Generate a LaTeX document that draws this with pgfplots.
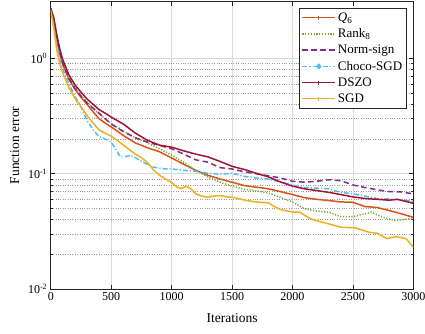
\documentclass[border=0pt]{standalone}
\usepackage{fontspec}
\setmainfont{Liberation Serif}
\usepackage{pgfplots}
\pgfplotsset{compat=1.18}
\definecolor{cQ}{rgb}{0.85,0.325,0.098}
\definecolor{cR}{rgb}{0.466,0.674,0.188}
\definecolor{cN}{rgb}{0.494,0.184,0.556}
\definecolor{cC}{rgb}{0.301,0.745,0.933}
\definecolor{cD}{rgb}{0.635,0.078,0.184}
\definecolor{cS}{rgb}{0.929,0.694,0.125}
\begin{document}
\begin{tikzpicture}
\begin{axis}[
  name=A,
  scale only axis, width=362pt, height=287pt,
  ymode=log, xmin=0, xmax=3000, ymin=0.01, ymax=3.1,
  xtick={0,500,1000,1500,2000,2500,3000},
  ytick={0.01,0.1,1},
  yticklabels={10\textsuperscript{-2},10\textsuperscript{-1},10\textsuperscript{0}},
  /pgf/number format/assume math mode=true,
  /pgf/number format/1000 sep={},
  tick label style={font=\fontsize{12}{14}\selectfont},
  label style={font=\fontsize{13.5}{15}\selectfont},
  xlabel={Iterations}, ylabel={Function error},
  xlabel style={at={(axis description cs:0.5,-0.1)}, anchor=center},
  ylabel style={at={(axis description cs:-0.0994,0.5)}, anchor=center},
  grid=both,
  major grid style={black!15, line width=0.6pt},
  minor grid style={black!40, dotted, line width=0.6pt},
  minor x tick num=0,
  tick align=inside,
  axis line style={black!85, line width=0.7pt},
  every tick/.style={black!85, line width=0.6pt},
  major tick length=4pt, minor tick length=2.5pt,
  legend cell align=left,
  legend style={at={(0.983,0.979)}, anchor=north east, draw=black!85, line width=0.7pt,
    font=\fontsize{13}{15}\selectfont, row sep=1.9pt, inner sep=2.5pt},
  legend image code/.code={\draw[#1] plot coordinates {(0cm,0cm) (0.575cm,0cm) (1.15cm,0cm)};},
]
\addlegendimage{color=cQ, solid, line width=1.5pt, mark=+, mark indices={2}, mark size=2pt, mark options={solid, line width=0.7pt}}
\addlegendentry{\textit{Q}\textsubscript{6}}
\addlegendimage{color=cR, line width=1.5pt, dash pattern=on 1.2pt off 1.6pt}
\addlegendentry{Rank\textsubscript{8}}
\addlegendimage{color=cN, line width=1.5pt, dash pattern=on 5.5pt off 3.5pt}
\addlegendentry{Norm-sign}
\addlegendimage{color=cC, line width=1.5pt, dash pattern=on 5pt off 2pt on 1.2pt off 2pt, mark=*, mark indices={2}, mark size=1.9pt, mark options={solid}}
\addlegendentry{Choco-SGD}
\addlegendimage{color=cD, solid, line width=1.5pt, mark=|, mark indices={2}, mark size=2pt, mark options={solid, line width=0.7pt}}
\addlegendentry{DSZO}
\addlegendimage{color=cS, solid, line width=1.5pt, mark=+, mark indices={2}, mark size=2pt, mark options={solid, line width=0.7pt}}
\addlegendentry{SGD}

% Q6
\addplot[cQ, solid, line width=1.5pt, forget plot] coordinates {
(0,2.7)(25,2.12)(50,1.45)(75,1.1)(100,0.88)(150,0.66)(200,0.54)(250,0.46)(300,0.40)(350,0.345)(400,0.30)(450,0.275)(500,0.255)(600,0.215)(700,0.185)(800,0.168)(900,0.155)(1000,0.137)(1100,0.121)(1200,0.107)(1300,0.097)(1400,0.090)(1500,0.0845)(1600,0.079)(1700,0.0765)(1800,0.074)(1900,0.070)(2000,0.066)(2100,0.062)(2200,0.060)(2300,0.0586)(2400,0.057)(2500,0.0566)(2600,0.052)(2700,0.051)(2800,0.048)(2900,0.045)(3000,0.0419)};
% Rank8
\addplot[cR, line width=1.5pt, dash pattern=on 1.2pt off 1.6pt, forget plot] coordinates {
(0,2.7)(25,2.15)(50,1.5)(75,1.13)(100,0.91)(150,0.69)(200,0.56)(250,0.48)(300,0.42)(350,0.37)(400,0.33)(450,0.30)(500,0.273)(600,0.235)(700,0.205)(800,0.185)(900,0.165)(1000,0.145)(1100,0.126)(1200,0.107)(1300,0.094)(1400,0.0845)(1500,0.078)(1600,0.0735)(1700,0.071)(1800,0.068)(1900,0.0626)(2000,0.057)(2100,0.0497)(2200,0.0475)(2300,0.0464)(2400,0.0425)(2500,0.0425)(2600,0.045)(2650,0.0464)(2750,0.042)(2850,0.0393)(2950,0.0405)(3000,0.0406)};
% Norm-sign
\addplot[cN, line width=1.5pt, dash pattern=on 5.5pt off 3.5pt, forget plot] coordinates {
(0,2.7)(25,2.15)(50,1.5)(75,1.12)(100,0.9)(150,0.67)(200,0.55)(250,0.47)(300,0.41)(350,0.37)(400,0.335)(450,0.30)(500,0.27)(600,0.232)(700,0.205)(800,0.188)(900,0.176)(1000,0.165)(1100,0.148)(1200,0.132)(1300,0.126)(1400,0.113)(1500,0.110)(1600,0.104)(1700,0.100)(1800,0.096)(1900,0.092)(2000,0.086)(2100,0.0845)(2200,0.086)(2300,0.0887)(2400,0.087)(2500,0.080)(2600,0.076)(2700,0.0726)(2800,0.070)(2900,0.0695)(3000,0.067)};
% Choco-SGD
\addplot[cC, line width=1.5pt, dash pattern=on 5pt off 2pt on 1.2pt off 2pt, forget plot] coordinates {
(0,2.7)(25,2.05)(50,1.32)(75,0.98)(100,0.8)(150,0.6)(200,0.47)(250,0.38)(300,0.29)(350,0.24)(400,0.21)(450,0.2)(500,0.188)(550,0.155)(575,0.141)(620,0.141)(660,0.144)(700,0.138)(750,0.128)(850,0.114)(950,0.110)(1000,0.110)(1100,0.107)(1200,0.105)(1300,0.101)(1400,0.099)(1500,0.101)(1600,0.095)(1700,0.092)(1800,0.090)(1900,0.085)(2000,0.080)(2100,0.076)(2200,0.075)(2300,0.074)(2400,0.069)(2500,0.067)(2600,0.064)(2700,0.061)(2800,0.0605)(2900,0.0595)(3000,0.0576)};
% DSZO
\addplot[cD, solid, line width=1.5pt, forget plot] coordinates {
(0,2.7)(25,2.25)(50,1.6)(75,1.2)(100,0.97)(150,0.72)(200,0.59)(250,0.51)(300,0.445)(350,0.40)(400,0.36)(450,0.335)(500,0.31)(600,0.27)(700,0.225)(800,0.195)(900,0.177)(1000,0.170)(1100,0.158)(1200,0.148)(1300,0.140)(1400,0.128)(1500,0.116)(1600,0.109)(1700,0.101)(1800,0.094)(1900,0.085)(2000,0.078)(2100,0.074)(2200,0.0715)(2300,0.069)(2400,0.066)(2500,0.063)(2600,0.061)(2700,0.060)(2800,0.059)(2870,0.0600)(3000,0.0555)};
% SGD
\addplot[cS, solid, line width=1.5pt, forget plot] coordinates {
(0,2.6)(25,1.85)(50,1.18)(75,0.9)(100,0.74)(150,0.56)(200,0.45)(250,0.38)(300,0.32)(350,0.275)(400,0.24)(450,0.225)(500,0.212)(550,0.195)(600,0.178)(650,0.162)(700,0.148)(750,0.138)(800,0.125)(850,0.108)(900,0.097)(950,0.090)(1000,0.084)(1050,0.076)(1080,0.0745)(1120,0.078)(1160,0.074)(1200,0.067)(1250,0.064)(1300,0.0626)(1350,0.064)(1400,0.0648)(1450,0.063)(1500,0.0626)(1550,0.061)(1620,0.0586)(1700,0.057)(1800,0.056)(1850,0.052)(1900,0.049)(2000,0.0466)(2060,0.0464)(2150,0.0406)(2250,0.038)(2400,0.0344)(2520,0.034)(2640,0.031)(2700,0.0305)(2780,0.0274)(2860,0.0285)(2940,0.0274)(3000,0.0232)};
\end{axis}
\pgfresetboundingbox
\path ([shift={(-50.7pt,-44.7pt)}]A.south west) rectangle ([shift={(11.7pt,1.7pt)}]A.north east);
\end{tikzpicture}
\end{document}
